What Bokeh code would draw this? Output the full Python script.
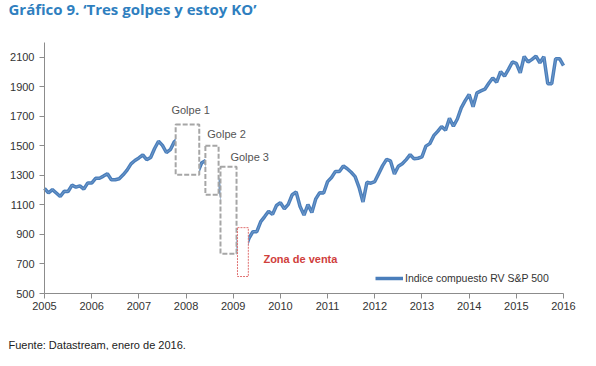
import pandas as pd
from bokeh.plotting import figure
from bokeh.models import (ColumnDataSource, Label, Legend, LegendItem, FixedTicker,
                          Range1d, LinearAxis)
from bokeh.embed import file_html
from bokeh.resources import INLINE

# ---- data -------------------------------------------------------------
# Month-end S&P 500 values (Dec 2004 .. Dec 2015)
months = pd.date_range("2004-12-31", "2015-12-31", freq="ME")
sp500 = [
    1212,
    1181, 1204, 1181, 1157, 1192, 1191, 1234, 1220, 1229, 1207, 1249, 1248,
    1280, 1281, 1295, 1311, 1270, 1270, 1277, 1304, 1336, 1378, 1401, 1418,
    1438, 1407, 1421, 1482, 1531, 1503, 1455, 1474, 1527, 1549, 1481, 1468,
    1379, 1331, 1323, 1386, 1400, 1280, 1267, 1283, 1165, 969, 896, 903,
    826, 735, 798, 873, 919, 919, 987, 1021, 1057, 1036, 1096, 1115,
    1074, 1104, 1169, 1187, 1089, 1031, 1102, 1049, 1141, 1183, 1181, 1258,
    1286, 1327, 1326, 1364, 1345, 1321, 1292, 1219, 1120, 1253, 1247, 1258,
    1312, 1366, 1408, 1398, 1310, 1362, 1379, 1407, 1441, 1412, 1416, 1426,
    1498, 1515, 1569, 1598, 1631, 1606, 1686, 1633, 1682, 1757, 1806, 1848,
    1765, 1859, 1872, 1884, 1924, 1960, 1931, 2003, 1972, 2018, 2068, 2059,
    1995, 2105, 2068, 2086, 2107, 2063, 2104, 1920, 1920, 2090, 2090, 2044,
]
# month-end dates as fractional years (Dec 2004 -> 2005.0)
year_frac = [d.year + (d.month % 12) / 12.0 + (1 if d.month == 12 else 0) for d in months]

year_ticks = list(range(2005, 2017))
value_ticks = list(range(500, 2101, 200))
x_min, x_max = 2005, 2016
y_min, y_max = 500, 2200

# "golpes" boxes (time span and value span)
golpe_left = [2007.78, 2008.41, 2008.73]
golpe_right = [2008.28, 2008.69, 2009.07]
golpe_top = [1645, 1500, 1358]
golpe_bottom = [1304, 1169, 770]
golpe_names = ["Golpe 1", "Golpe 2", "Golpe 3"]

venta_left = [2009.09]
venta_right = [2009.32]
venta_top = [946]
venta_bottom = [615]
venta_name = "Zona de venta"

series_name = "Indice compuesto RV S&P 500"
title_text = "Gr\u00e1fico 9. \u2018Tres golpes y estoy KO\u2019"
source_text = "Fuente: Datastream, enero de 2016."

# ---- layout (pixels of the plotting area inside the canvas) -----------
W, H = 580, 350
PL, PR, PT, PB = 44, 17, 42, 57
sx = (W - PL - PR) / (x_max - x_min)
sy = (H - PT - PB) / (y_max - y_min)
xr = Range1d(x_min - PL / sx, x_max + PR / sx)
yr = Range1d(y_min - PB / sy, y_max + PT / sy)

p = figure(width=W, height=H, output_backend="svg", toolbar_location=None,
           x_range=xr, y_range=yr, x_axis_location=None, y_axis_location=None,
           min_border=0)
p.outline_line_color = None
p.xgrid.visible = False
p.ygrid.visible = False
p.background_fill_color = "white"
p.border_fill_color = "white"

src = ColumnDataSource(dict(x=year_frac, y=sp500))
blue = "#4a7ebb"
r_line = p.line("x", "y", source=src, line_color=blue, line_width=3.5)
p.line("x", "y", source=src, line_color="white", line_width=0.6, line_alpha=0.35)

p.quad(left=golpe_left, right=golpe_right, top=golpe_top, bottom=golpe_bottom,
       fill_color="white", line_color="#a6a6a6", line_width=2, line_dash="5 2")
p.quad(left=venta_left, right=venta_right, top=venta_top, bottom=venta_bottom,
       fill_color="white", line_color="#e07070", line_width=1, line_dash="2 1")

label_pos = [(2007.69, 1743), (2008.45, 1581), (2008.94, 1426)]
for (lx, ly), name in zip(label_pos, golpe_names):
    p.add_layout(Label(x=lx, y=ly, text=name, text_font="Liberation Sans",
                       text_font_size="11px", text_color="#555555",
                       text_baseline="middle"))
p.add_layout(Label(x=2009.64, y=736, text=venta_name, text_font="Liberation Sans",
                   text_font_size="11px", text_font_style="bold",
                   text_color="#d0403c", text_baseline="middle"))

# axes placed at fixed data locations
xaxis = LinearAxis(fixed_location=y_min, bounds=(x_min, x_max),
                   ticker=FixedTicker(ticks=year_ticks))
yaxis = LinearAxis(fixed_location=x_min, bounds=(y_min, y_max),
                   ticker=FixedTicker(ticks=value_ticks))
for ax in (xaxis, yaxis):
    ax.axis_line_color = "#8c8c8c"
    ax.major_tick_line_color = "#8c8c8c"
    ax.minor_tick_line_color = None
    ax.major_tick_in = 0
    ax.major_tick_out = 5
    ax.major_label_text_font = "Liberation Sans"
    ax.major_label_text_font_size = "11px"
    ax.major_label_text_color = "#333333"
xaxis.major_label_standoff = 3
yaxis.major_label_standoff = 5
p.add_layout(xaxis, "below")
p.add_layout(yaxis, "left")

legend = Legend(items=[LegendItem(label=series_name, renderers=[r_line])],
                location=(375, 62), border_line_color=None,
                background_fill_alpha=0, padding=0, margin=0,
                glyph_width=28, label_standoff=2,
                label_text_font="Liberation Sans", label_text_font_size="10.5px",
                label_text_color="#333333")
p.add_layout(legend)

p.add_layout(Label(x=8, y=H - 8, x_units="screen", y_units="screen",
                   text=title_text, text_font="Open Sans",
                   text_font_style="bold", text_font_size="15px",
                   text_color="#2f7fbf", text_baseline="middle"))
p.add_layout(Label(x=8, y=H - 344, x_units="screen", y_units="screen",
                   text=source_text, text_font="Liberation Sans",
                   text_font_size="11px", text_color="#222222",
                   text_baseline="middle"))

open("out.html", "w").write(file_html(p, INLINE))
